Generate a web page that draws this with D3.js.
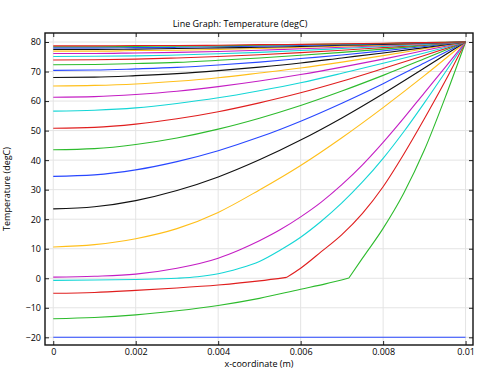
<!DOCTYPE html>
<html>
<head>
<meta charset="utf-8">
<script src="https://cdn.jsdelivr.net/npm/d3@7"></script>
<style>
  body { margin: 0; background: #fff; }
  text { font-family: "Open Sans", sans-serif; font-size: 9px; fill: #000; }
</style>
</head>
<body>
<svg id="chart" width="480" height="370"></svg>
<script>
// axis ticks
var xTicks = [0, 0.002, 0.004, 0.006, 0.008, 0.01];
var yTicks = [-20, -10, 0, 10, 20, 30, 40, 50, 60, 70, 80];

// comsol default line colour cycle
var colors = ["#2847ff", "#2dbb2d", "#e01e1e", "#14d6d6", "#c41ec4", "#ffbf1a", "#111111"];

// x positions (m) used by the late profiles
var xStep = [0, 0.001, 0.002, 0.003, 0.004, 0.005, 0.006, 0.007, 0.008, 0.009, 0.01];

// early profiles (they have their own x points, kinks at the freezing front)
var xInit = [0, 0.01];
var tInit = [-20, -20];
var xT1 = [0, 0.001, 0.002, 0.003, 0.004, 0.005, 0.006, 0.0066, 0.00717, 0.0075, 0.008, 0.0085, 0.009, 0.0095, 0.01];
var tT1 = [-13.7, -13.3, -12.4, -11.0, -9.2, -6.8, -3.7, -1.9, 0.1, 6.8, 16.9, 28.8, 43.4, 61.0, 80];
var xT2 = [0, 0.001, 0.002, 0.003, 0.004, 0.005, 0.00566, 0.006, 0.0065, 0.007, 0.0075, 0.008, 0.0085, 0.009, 0.0095, 0.01];
var tT2 = [-5.1, -4.8, -4.1, -3.3, -2.3, -0.9, 0.3, 3.4, 9.0, 14.8, 22.0, 31.0, 42.0, 54.0, 66.6, 80];
var xT3 = [0, 0.001, 0.002, 0.003, 0.0035, 0.004, 0.0045, 0.005, 0.0055, 0.006, 0.0065, 0.007, 0.0075, 0.008, 0.0085, 0.009, 0.0095, 0.01];
var tT3 = [-0.7, -0.6, -0.4, 0.0, 0.5, 1.5, 3.3, 5.7, 9.5, 13.9, 19.3, 25.5, 32.6, 40.6, 49.6, 59.4, 69.6, 80];
var xT4 = [0, 0.001, 0.002, 0.003, 0.004, 0.0045, 0.005, 0.0055, 0.006, 0.0065, 0.007, 0.0075, 0.008, 0.0085, 0.009, 0.0095, 0.01];
var tT4 = [0.4, 0.7, 1.4, 3.4, 6.8, 9.5, 12.7, 16.4, 20.8, 25.8, 31.7, 38.4, 46.0, 54.2, 62.8, 71.3, 80];

// later profiles on xStep
var tT5  = [10.6, 11.4, 13.4, 16.8, 22.3, 29.9, 38.2, 47.6, 57.8, 68.6, 80];
var tT6  = [23.5, 24.2, 26.3, 29.7, 34.3, 40.1, 46.8, 54.3, 62.5, 71.2, 80];
var tT7  = [34.5, 35.0, 36.7, 39.5, 43.2, 47.8, 53.2, 59.3, 65.9, 72.9, 80];
var tT8  = [43.5, 43.9, 45.3, 47.5, 50.5, 54.2, 58.5, 63.4, 68.7, 74.3, 80];
var tT9  = [50.8, 51.1, 52.2, 54.0, 56.4, 59.4, 62.8, 66.7, 71.0, 75.4, 80];
var tT10 = [56.6, 56.9, 57.7, 59.2, 61.1, 63.5, 66.2, 69.4, 72.8, 76.3, 80];
var tT11 = [61.3, 61.5, 62.2, 63.3, 64.9, 66.8, 69.0, 71.5, 74.2, 77.1, 80];
var tT12 = [65.1, 65.3, 65.8, 66.7, 67.9, 69.5, 71.2, 73.2, 75.4, 77.7, 80];
var tT13 = [68.0, 68.1, 68.6, 69.3, 70.3, 71.5, 72.9, 74.6, 76.3, 78.1, 80];
var tT14 = [70.4, 70.5, 70.9, 71.4, 72.2, 73.2, 74.4, 75.6, 77.0, 78.5, 80];
var tT15 = [72.3, 72.4, 72.7, 73.1, 73.8, 74.6, 75.5, 76.5, 77.6, 78.8, 80];
var tT16 = [73.9, 74.0, 74.2, 74.6, 75.1, 75.7, 76.4, 77.2, 78.1, 79.0, 80];
var tT17 = [75.1, 75.2, 75.3, 75.6, 76.0, 76.5, 77.1, 77.8, 78.5, 79.2, 80];
var tT18 = [76.1, 76.1, 76.3, 76.5, 76.8, 77.2, 77.7, 78.2, 78.8, 79.4, 80];
var tT19 = [76.9, 76.9, 77.1, 77.2, 77.5, 77.8, 78.2, 78.6, 79.0, 79.5, 80];
var tT20 = [77.5, 77.5, 77.6, 77.8, 78.0, 78.2, 78.5, 78.9, 79.2, 79.6, 80];
var tT21 = [78.0, 78.0, 78.1, 78.2, 78.4, 78.6, 78.8, 79.1, 79.4, 79.7, 80];
var tT22 = [78.4, 78.4, 78.5, 78.6, 78.7, 78.9, 79.1, 79.3, 79.5, 79.8, 80];
var tT23 = [78.7, 78.7, 78.8, 78.8, 78.9, 79.1, 79.2, 79.4, 79.6, 79.8, 80];

var seriesX = [xInit, xT1, xT2, xT3, xT4, xStep, xStep, xStep, xStep, xStep, xStep, xStep,
  xStep, xStep, xStep, xStep, xStep, xStep, xStep, xStep, xStep, xStep, xStep, xStep];
var seriesT = [tInit, tT1, tT2, tT3, tT4, tT5, tT6, tT7, tT8, tT9, tT10, tT11,
  tT12, tT13, tT14, tT15, tT16, tT17, tT18, tT19, tT20, tT21, tT22, tT23];
// index of the sharp corner (melting front) in the two early profiles
var kinkIndex = [-1, 8, 6];

var svg = d3.select("#chart");
var pLeft = 45, pRight = 473, pTop = 33, pBottom = 345;

var x = d3.scaleLinear().domain([-0.0002, 0.01018]).range([pLeft, pRight]);
var y = d3.scaleLinear().domain([-22.6, 83.05]).range([pBottom, pTop]);

// grid
svg.append("g").selectAll("line").data(xTicks).enter().append("line")
  .attr("x1", d => x(d)).attr("x2", d => x(d))
  .attr("y1", pTop).attr("y2", pBottom)
  .attr("stroke", "#e4e4e4").attr("stroke-width", 1);
svg.append("g").selectAll("line").data(yTicks).enter().append("line")
  .attr("x1", pLeft).attr("x2", pRight)
  .attr("y1", d => y(d)).attr("y2", d => y(d))
  .attr("stroke", "#e4e4e4").attr("stroke-width", 1);

// curves
var line = d3.line().curve(d3.curveMonotoneX)
  .x(d => x(d[0])).y(d => y(d[1]));

seriesT.forEach(function(ts, i){
  var pts = ts.map((t, j) => [seriesX[i][j], t]);
  var k = kinkIndex[i];
  var d = (k > 0) ? line(pts.slice(0, k + 1)) + line(pts.slice(k)) : line(pts);
  svg.append("path")
    .attr("d", d)
    .attr("fill", "none")
    .attr("stroke", colors[i % colors.length])
    .attr("stroke-width", 1.1)
    .attr("stroke-linejoin", "round");
});

// axes, ticks inward on every side
var fmt = d => d === 0 ? "0" : String(+d.toFixed(3));
svg.append("g").attr("transform", "translate(0," + pBottom + ")")
  .call(d3.axisBottom(x).tickValues(xTicks).tickFormat(fmt).tickSizeInner(-4).tickSizeOuter(0).tickPadding(4));
svg.append("g").attr("transform", "translate(0," + pTop + ")")
  .call(d3.axisTop(x).tickValues(xTicks).tickFormat("").tickSizeInner(-4).tickSizeOuter(0));
svg.append("g").attr("transform", "translate(" + pLeft + ",0)")
  .call(d3.axisLeft(y).tickValues(yTicks).tickSizeInner(-4).tickSizeOuter(0).tickPadding(4));
svg.append("g").attr("transform", "translate(" + pRight + ",0)")
  .call(d3.axisRight(y).tickValues(yTicks).tickFormat("").tickSizeInner(-4).tickSizeOuter(0));

svg.selectAll(".domain").remove();
svg.selectAll(".tick line").attr("stroke", "#222");
svg.selectAll(".tick text").attr("font-family", "Open Sans, sans-serif").attr("font-size", 9).attr("fill", "#000");

svg.append("rect")
  .attr("x", pLeft).attr("y", pTop)
  .attr("width", pRight - pLeft).attr("height", pBottom - pTop)
  .attr("fill", "none").attr("stroke", "#111").attr("stroke-width", 1.4);

// titles
svg.append("text").attr("x", 240).attr("y", 27)
  .attr("text-anchor", "middle").text("Line Graph: Temperature (degC)");
svg.append("text").attr("x", (pLeft + pRight) / 2).attr("y", 367)
  .attr("text-anchor", "middle").text("x-coordinate (m)");
svg.append("text")
  .attr("transform", "translate(10," + (pTop + pBottom) / 2 + ") rotate(-90)")
  .attr("text-anchor", "middle").text("Temperature (degC)");
</script>
</body>
</html>
